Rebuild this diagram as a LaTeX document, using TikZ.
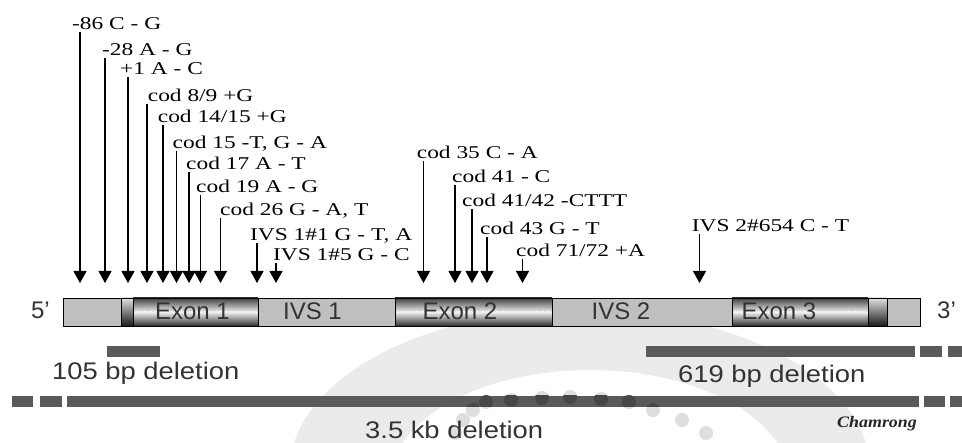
\documentclass[tikz,border=0pt]{standalone}
\usepackage{fontspec}
\usetikzlibrary{arrows.meta}
\newfontfamily\mutfont[FakeStretch=1.3]{Liberation Serif}
\newfontfamily\genefont{Liberation Sans}
\newfontfamily\delfont[FakeStretch=1.14]{Liberation Sans}
\newfontfamily\sigfont[FakeStretch=1.12]{Liberation Serif}

\definecolor{intron}{HTML}{BFBFBF}
\definecolor{delgray}{HTML}{5A5A5A}
\definecolor{wmark}{HTML}{EBEBEB}
\definecolor{wdot}{HTML}{DEDEDE}
\definecolor{wdotdark}{HTML}{474747}

\begin{document}
\begin{tikzpicture}[x=1pt,y=-1pt,
  mutlab/.style={font=\mutfont\fontsize{18}{20}\selectfont, anchor=base west, inner sep=0pt},
  mutarrow/.style={line width=1.1pt, -{Triangle[width=13pt,length=12pt]}},
  seg/.style={draw=black, line width=0.8pt, inner sep=0pt, outer sep=0pt, minimum height=28pt, anchor=west},
  intronseg/.style={seg, fill=intron},
  exonseg/.style={seg, top color=black!75, bottom color=black!82, middle color=black!6},
  capseg/.style={seg, top color=black!12, bottom color=black!90},
  genelab/.style={font=\genefont\fontsize{24}{26}\selectfont, anchor=base, inner sep=0pt, text=black!80},
  endlab/.style={font=\genefont\fontsize{24}{26}\selectfont, inner sep=0pt, text=black!80},
  dellab/.style={font=\delfont\fontsize{24}{26}\selectfont, anchor=base west, inner sep=0pt, text=black!80},
  delbar/.style={fill=delgray},
  wm/.style={fill=wmark, even odd rule},
  wmdot/.style={fill=wdot},
]
\useasboundingbox (0,0) rectangle (962,443);
\fill[white] (0,0) rectangle (962,443);

% faint background arch and dots
\begin{scope}
  \clip (0,0) rectangle (962,443);
  \fill[wm] (580,470) ellipse[x radius=290, y radius=160]
            (590,482) ellipse[x radius=200, y radius=112];
\end{scope}
\def\wmdots{455/433, 463/420, 473/410, 486/402, 511/400, 542/398, 570/397,
            601/399, 629/402, 653/410, 682/420, 706/433}
\foreach \px/\py in \wmdots
  \fill[wmdot] (\px,\py) circle[radius=7];

% gene: UTRs, exons and introns
\node[intronseg, minimum width=58pt]  (u5)  at (63,312)  {};
\node[capseg,    minimum width=12pt]  (c1)  at (121,312) {};
\node[exonseg,   minimum width=125pt] (ex1) at (133,312) {};
\node[intronseg, minimum width=137pt] (iv1) at (258,312) {};
\node[exonseg,   minimum width=157pt] (ex2) at (395,312) {};
\node[intronseg, minimum width=180pt] (iv2) at (552,312) {};
\node[exonseg,   minimum width=136pt] (ex3) at (732,312) {};
\node[capseg,    minimum width=19pt]  (c3)  at (868,312) {};
\node[intronseg, minimum width=33pt]  (u3)  at (887,312) {};
\foreach \e in {ex1,ex2,ex3}
  \draw[white, line width=1pt, dash pattern=on 1pt off 1.5pt]
    ([xshift=3pt]\e.west) -- ([xshift=-3pt]\e.east);

\node[genelab] (tex1) at (192.5,320) {Exon 1};
\node[genelab] (tiv1) at (312.5,320) {IVS 1};
\node[genelab] (tex2) at (460,320)   {Exon 2};
\node[genelab] (tiv2) at (621,320)   {IVS 2};
\node[genelab] (tex3) at (779,320)   {Exon 3};
\node[endlab, anchor=base east] (p5) at (50,319)  {5’};
\node[endlab, anchor=base west] (p3) at (937,319) {3’};

% mutation labels
\node[mutlab] (l86)  at (72,29.3)   {-86 C - G};
\node[mutlab] (l28)  at (102,56)    {-28 A - G};
\node[mutlab] (l1)   at (120,75)    {+1 A - C};
\node[mutlab] (l89)  at (147.7,102) {cod 8/9 +G};
\node[mutlab] (l1415) at (157.7,123) {cod 14/15 +G};
\node[mutlab] (l15)  at (172.5,148.3) {cod 15 -T, G - A};
\node[mutlab] (l17)  at (186,170)   {cod 17 A - T};
\node[mutlab] (l19)  at (196,193)   {cod 19 A - G};
\node[mutlab] (l26)  at (220,216)   {cod 26 G - A, T};
\node[mutlab] (li11) at (250,240.7) {IVS 1\#1 G - T, A};
\node[mutlab] (li15) at (273,260.7) {IVS 1\#5 G - C};
\node[mutlab] (l35)  at (416.7,159) {cod 35 C - A};
\node[mutlab] (l41)  at (452,183)   {cod 41 - C};
\node[mutlab] (l4142) at (462,207)  {cod 41/42 -CTTT};
\node[mutlab] (l43)  at (480,235)   {cod 43 G - T};
\node[mutlab] (l7172) at (516,256.7) {cod 71/72 +A};
\node[mutlab] (li2)  at (691.7,231.7) {IVS 2\#654 C - T};

% arrow tips above the gene
\foreach \n/\x in {86/80, 28/105, 1/128, 89/147, 1415/163, 15/176.5, 17/189,
                   19/200.5, 26/220.5, i11/257, i15/276, 35/423.5, 41/455,
                   4142/472, 43/487, 7172/522.5, i2/699.5}
  \coordinate (t\n) at (\x,283);

\foreach \lab/\tip in {l86/t86, l28/t28, l1/t1, l89/t89, l1415/t1415, l15/t15,
                       l17/t17, l19/t19, l26/t26, li11/ti11, li15/ti15, l35/t35,
                       l41/t41, l4142/t4142, l43/t43, l7172/t7172, li2/ti2}
  \draw[mutarrow] ([yshift=-2.5pt]\lab.base -| \tip) -- (\tip);

% deletions
\fill[delbar] (107,346) rectangle (160,357);
\node[dellab] (d105) at (52,380) {105 bp deletion};

\fill[delbar] (646,346) rectangle (915,357);
\fill[delbar] (920,346) rectangle (942,357);
\fill[delbar] (948,346) rectangle (962,357);
\node[dellab] (d619) at (678,383) {619 bp deletion};

\fill[delbar] (12,396) rectangle (33,407);
\fill[delbar] (40,396) rectangle (62,407);
\fill[delbar] (67,396) rectangle (919,407);
\fill[delbar] (924,396) rectangle (945,407);
\fill[delbar] (950,396) rectangle (962,407);
% the dots show darker where they cross the long bar
\begin{scope}
  \clip (67,396) rectangle (919,407);
  \foreach \px/\py in \wmdots
    \fill[wdotdark] (\px,\py) circle[radius=7];
\end{scope}
\node[dellab] (d35) at (365,438.5) {3.5 kb deletion};

\node[font=\sigfont\bfseries\itshape\fontsize{16}{18}\selectfont, anchor=base west,
      inner sep=0pt, text=black!85] (sig) at (837,428) {Chamrong};
\end{tikzpicture}
\end{document}
